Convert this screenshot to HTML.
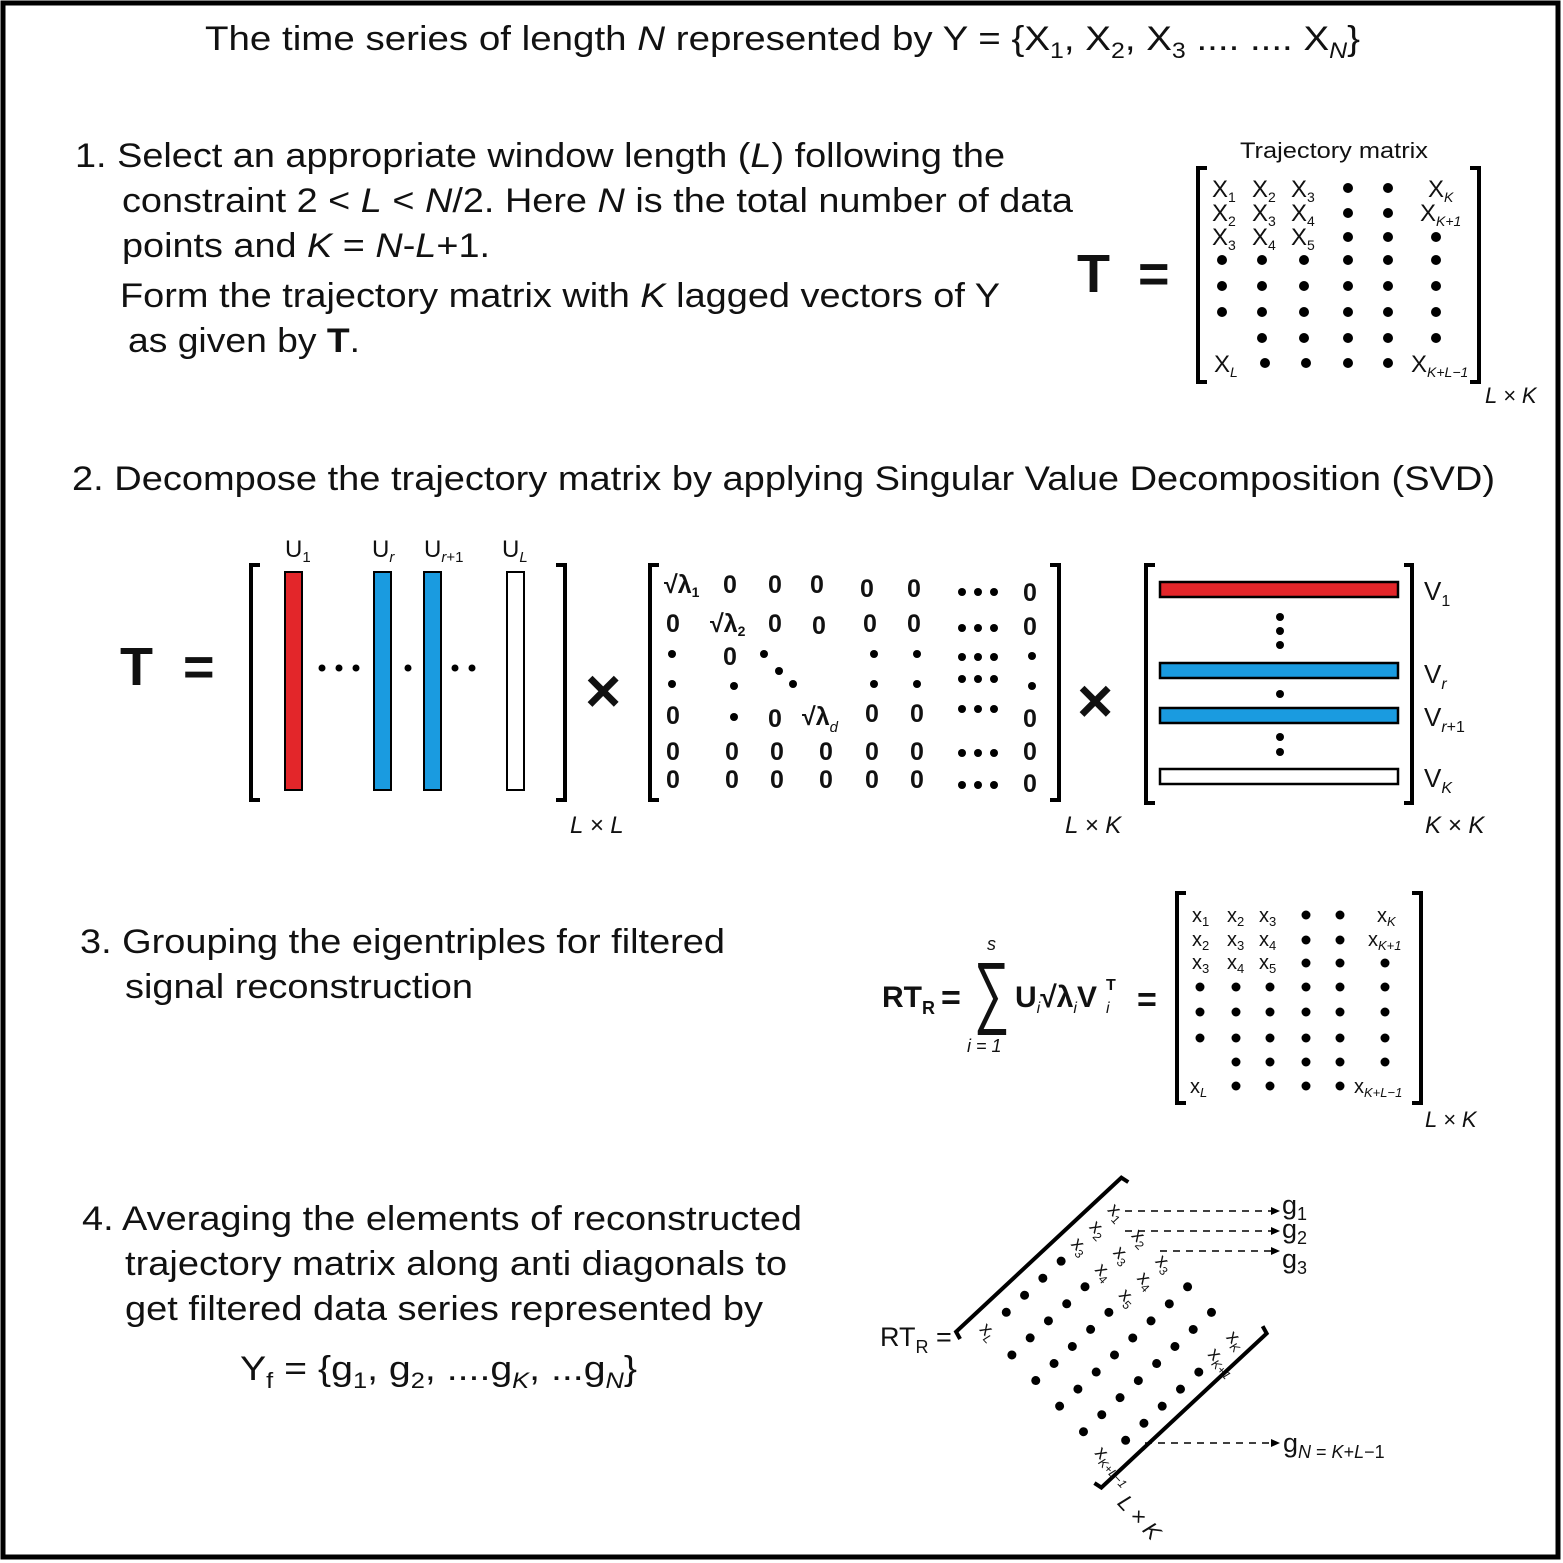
<!DOCTYPE html>
<html><head><meta charset="utf-8"><style>
html,body{margin:0;padding:0;background:#fff}
svg{display:block}
text{font-family:"Liberation Sans",sans-serif;fill:#111}
.b{font-weight:bold}
.s{font-family:"Liberation Serif",serif;font-weight:bold}
.i{font-style:italic}
</style></head><body>
<svg width="1563" height="1563" viewBox="0 0 1563 1563" xmlns="http://www.w3.org/2000/svg">
<rect x="3" y="3" width="1555" height="1554" fill="#fff" stroke="#000" stroke-width="5"/>

<text x="205" y="50" font-size="34" textLength="1155" lengthAdjust="spacingAndGlyphs">The time series of length <tspan class="i">N</tspan> represented by Y = {X<tspan font-size="22" dy="8">1</tspan><tspan dy="-8">, X</tspan><tspan font-size="22" dy="8">2</tspan><tspan dy="-8">, X</tspan><tspan font-size="22" dy="8">3</tspan><tspan dy="-8"> .... .... X</tspan><tspan font-size="22" dy="8" class="i">N</tspan><tspan dy="-8">}</tspan></text>

<g font-size="34">
<text x="75" y="167" textLength="930" lengthAdjust="spacingAndGlyphs">1. Select an appropriate window length (<tspan class="i">L</tspan>) following the</text>
<text x="122" y="212" textLength="951" lengthAdjust="spacingAndGlyphs">constraint 2 &lt; <tspan class="i">L</tspan> &lt; <tspan class="i">N</tspan>/2. Here <tspan class="i">N</tspan> is the total number of data</text>
<text x="122" y="257" textLength="368" lengthAdjust="spacingAndGlyphs">points and <tspan class="i">K</tspan> = <tspan class="i">N</tspan>-<tspan class="i">L</tspan>+1.</text>
<text x="120" y="307" textLength="880" lengthAdjust="spacingAndGlyphs">Form the trajectory matrix with <tspan class="i">K</tspan> lagged vectors of Y</text>
<text x="128" y="352" textLength="232" lengthAdjust="spacingAndGlyphs">as given by <tspan class="b">T</tspan>.</text>
</g>
<text x="1077" y="292" font-size="54" class="b">T</text>
<text x="1138" y="292" font-size="54" class="b">=</text>
<text x="1240" y="158" font-size="22" textLength="188" lengthAdjust="spacingAndGlyphs">Trajectory matrix</text>
<path d="M1207,168 H1198 V382 H1207 M1470,168 H1479 V382 H1470" fill="none" stroke="#000" stroke-width="4"/>
<g font-size="24">
<text x="1212" y="197">X<tspan font-size="14" dy="5">1</tspan></text>
<text x="1252" y="197">X<tspan font-size="14" dy="5">2</tspan></text>
<text x="1291" y="197">X<tspan font-size="14" dy="5">3</tspan></text>
<text x="1428" y="197">X<tspan font-size="14" dy="5" class="i">K</tspan></text>
<text x="1212" y="221">X<tspan font-size="14" dy="5">2</tspan></text>
<text x="1252" y="221">X<tspan font-size="14" dy="5">3</tspan></text>
<text x="1291" y="221">X<tspan font-size="14" dy="5">4</tspan></text>
<text x="1420" y="221">X<tspan font-size="14" dy="5" class="i">K+1</tspan></text>
<text x="1212" y="245">X<tspan font-size="14" dy="5">3</tspan></text>
<text x="1252" y="245">X<tspan font-size="14" dy="5">4</tspan></text>
<text x="1291" y="245">X<tspan font-size="14" dy="5">5</tspan></text>
<text x="1214" y="372">X<tspan font-size="14" dy="5" class="i">L</tspan></text>
<text x="1411" y="372">X<tspan font-size="14" dy="5" class="i">K+L−1</tspan></text>
</g>
<g fill="#000">
<circle cx="1348" cy="188" r="5"/><circle cx="1388" cy="188" r="5"/>
<circle cx="1348" cy="213" r="5"/><circle cx="1388" cy="213" r="5"/>
<circle cx="1348" cy="237" r="5"/><circle cx="1388" cy="237" r="5"/><circle cx="1436" cy="237" r="5"/>
<circle cx="1222" cy="260" r="5"/><circle cx="1262" cy="260" r="5"/><circle cx="1304" cy="260" r="5"/><circle cx="1348" cy="260" r="5"/><circle cx="1388" cy="260" r="5"/><circle cx="1436" cy="260" r="5"/>
<circle cx="1222" cy="286" r="5"/><circle cx="1262" cy="286" r="5"/><circle cx="1304" cy="286" r="5"/><circle cx="1348" cy="286" r="5"/><circle cx="1388" cy="286" r="5"/><circle cx="1436" cy="286" r="5"/>
<circle cx="1222" cy="312" r="5"/><circle cx="1262" cy="312" r="5"/><circle cx="1304" cy="312" r="5"/><circle cx="1348" cy="312" r="5"/><circle cx="1388" cy="312" r="5"/><circle cx="1436" cy="312" r="5"/>
<circle cx="1262" cy="338" r="5"/><circle cx="1304" cy="338" r="5"/><circle cx="1348" cy="338" r="5"/><circle cx="1388" cy="338" r="5"/><circle cx="1436" cy="338" r="5"/>
<circle cx="1265" cy="363" r="5"/><circle cx="1306" cy="363" r="5"/><circle cx="1348" cy="363" r="5"/><circle cx="1388" cy="363" r="5"/>
</g>
<text x="1485" y="403" font-size="22" class="i">L × K</text>

<text x="72" y="490" font-size="34" textLength="1423" lengthAdjust="spacingAndGlyphs">2. Decompose the trajectory matrix by applying Singular Value Decomposition (SVD)</text>
<text x="120" y="685" font-size="54" class="b">T</text>
<text x="183" y="685" font-size="54" class="b">=</text>
<path d="M260,565 H251 V800 H260 M556,565 H565 V800 H556" fill="none" stroke="#000" stroke-width="4"/>
<rect x="285" y="572" width="17" height="218" fill="#e3262a" stroke="#000" stroke-width="2"/>
<rect x="374" y="572" width="17" height="218" fill="#1a9be0" stroke="#000" stroke-width="2"/>
<rect x="424" y="572" width="17" height="218" fill="#1a9be0" stroke="#000" stroke-width="2"/>
<rect x="507" y="572" width="17" height="218" fill="#fff" stroke="#000" stroke-width="2"/>
<g fill="#000">
<circle cx="322" cy="668" r="3.5"/><circle cx="339" cy="668" r="3.5"/><circle cx="356" cy="668" r="3.5"/>
<circle cx="408" cy="668" r="3.5"/>
<circle cx="455" cy="668" r="3.5"/><circle cx="472" cy="668" r="3.5"/>
</g>
<g font-size="24">
<text x="285" y="557">U<tspan font-size="15" dy="5">1</tspan></text>
<text x="372" y="557">U<tspan font-size="15" dy="5" class="i">r</tspan></text>
<text x="424" y="557">U<tspan font-size="15" dy="5" class="i">r</tspan><tspan font-size="15">+1</tspan></text>
<text x="502" y="557">U<tspan font-size="15" dy="5" class="i">L</tspan></text>
</g>
<text x="570" y="833" font-size="24" class="i">L × L</text>
<text x="585" y="712" font-size="62" class="b">×</text>

<path d="M659,565 H650 V800 H659 M1050,565 H1059 V800 H1050" fill="none" stroke="#000" stroke-width="4"/>
<g font-size="25" class="s">
<text x="664" y="593">√λ<tspan font-size="14" dy="4">1</tspan></text>
<text x="723" y="593">0</text><text x="768" y="593">0</text><text x="810" y="593">0</text><text x="860" y="597">0</text><text x="907" y="597">0</text><text x="1023" y="601">0</text>
<text x="666" y="632">0</text>
<text x="710" y="632">√λ<tspan font-size="14" dy="4">2</tspan></text>
<text x="768" y="632">0</text><text x="812" y="634">0</text><text x="863" y="632">0</text><text x="907" y="632">0</text><text x="1023" y="635">0</text>
<text x="723" y="665">0</text>
<text x="666" y="724">0</text><text x="768" y="727">0</text>
<text x="802" y="725">√λ<tspan font-size="15" dy="7" class="i" font-weight="normal">d</tspan></text>
<text x="865" y="722">0</text><text x="910" y="722">0</text><text x="1023" y="727">0</text>
<text x="666" y="760">0</text><text x="725" y="760">0</text><text x="770" y="760">0</text><text x="819" y="760">0</text><text x="865" y="760">0</text><text x="910" y="760">0</text><text x="1023" y="760">0</text>
<text x="666" y="788">0</text><text x="725" y="788">0</text><text x="770" y="788">0</text><text x="819" y="788">0</text><text x="865" y="788">0</text><text x="910" y="788">0</text><text x="1023" y="792">0</text>
</g>
<g fill="#000">
<circle cx="962" cy="592" r="4"/><circle cx="978" cy="592" r="4"/><circle cx="994" cy="592" r="4"/>
<circle cx="962" cy="628" r="4"/><circle cx="978" cy="628" r="4"/><circle cx="994" cy="628" r="4"/>
<circle cx="672" cy="654" r="4"/><circle cx="764" cy="654" r="4"/><circle cx="874" cy="654" r="4"/><circle cx="917" cy="654" r="4"/><circle cx="962" cy="657" r="4"/><circle cx="978" cy="657" r="4"/><circle cx="994" cy="657" r="4"/><circle cx="1032" cy="656" r="4"/>
<circle cx="779" cy="671" r="4"/><circle cx="793" cy="684" r="4"/>
<circle cx="672" cy="684" r="4"/><circle cx="734" cy="686" r="4"/><circle cx="874" cy="684" r="4"/><circle cx="917" cy="684" r="4"/><circle cx="962" cy="679" r="4"/><circle cx="978" cy="679" r="4"/><circle cx="994" cy="679" r="4"/><circle cx="1032" cy="686" r="4"/>
<circle cx="734" cy="717" r="4"/><circle cx="962" cy="709" r="4"/><circle cx="978" cy="709" r="4"/><circle cx="994" cy="709" r="4"/>
<circle cx="962" cy="753" r="4"/><circle cx="978" cy="753" r="4"/><circle cx="994" cy="753" r="4"/>
<circle cx="962" cy="785" r="4"/><circle cx="978" cy="785" r="4"/><circle cx="994" cy="785" r="4"/>
</g>
<text x="1065" y="833" font-size="24" class="i">L × K</text>
<text x="1077" y="722" font-size="62" class="b">×</text>

<path d="M1155,565 H1146 V803 H1155 M1404,565 H1412 V803 H1404" fill="none" stroke="#000" stroke-width="4"/>
<rect x="1160" y="582" width="238" height="15" fill="#e3262a" stroke="#000" stroke-width="2.5"/>
<rect x="1160" y="663" width="238" height="15" fill="#1a9be0" stroke="#000" stroke-width="2.5"/>
<rect x="1160" y="708" width="238" height="15" fill="#1a9be0" stroke="#000" stroke-width="2.5"/>
<rect x="1160" y="769" width="238" height="15" fill="#fff" stroke="#000" stroke-width="2.5"/>
<g fill="#000">
<circle cx="1280" cy="617" r="4"/><circle cx="1280" cy="631" r="4"/><circle cx="1280" cy="645" r="4"/>
<circle cx="1280" cy="694" r="4"/>
<circle cx="1280" cy="737" r="4"/><circle cx="1280" cy="752" r="4"/>
</g>
<g font-size="26">
<text x="1424" y="600">V<tspan font-size="16" dy="6">1</tspan></text>
<text x="1424" y="683">V<tspan font-size="16" dy="6" class="i">r</tspan></text>
<text x="1424" y="726">V<tspan font-size="16" dy="6" class="i">r</tspan><tspan font-size="16">+1</tspan></text>
<text x="1424" y="787">V<tspan font-size="16" dy="6" class="i">K</tspan></text>
</g>
<text x="1425" y="833" font-size="24" class="i">K × K</text>

<g font-size="34">
<text x="80" y="953" textLength="645" lengthAdjust="spacingAndGlyphs">3. Grouping the eigentriples for filtered</text>
<text x="125" y="998" textLength="348" lengthAdjust="spacingAndGlyphs">signal reconstruction</text>
</g>
<g class="s">
<text x="882" y="1007" font-size="30">RT<tspan font-size="18" dy="7">R</tspan></text>
<text x="941" y="1009" font-size="34">=</text>
<text transform="translate(974,1018) scale(0.62,1)" font-size="80" font-weight="normal">∑</text>
<text x="1015" y="1007" font-size="30">U<tspan font-size="16" dy="6" class="i" font-weight="normal">i</tspan><tspan dy="-6">√λ</tspan><tspan font-size="16" dy="6" class="i" font-weight="normal">i</tspan><tspan dy="-6">V</tspan></text>
<text x="1106" y="990" font-size="16">T</text>
<text x="1106" y="1013" font-size="16" class="i" font-weight="normal">i</text>
<text x="1137" y="1011" font-size="34">=</text>
</g>
<text x="987" y="950" font-size="18" class="i">s</text>
<text x="967" y="1052" font-size="18" class="i">i = 1</text>
<path d="M1186,893 H1177 V1103 H1186 M1412,893 H1421 V1103 H1412" fill="none" stroke="#000" stroke-width="4"/>
<g font-size="20">
<text x="1192" y="922">x<tspan font-size="13" dy="4">1</tspan></text>
<text x="1227" y="922">x<tspan font-size="13" dy="4">2</tspan></text>
<text x="1259" y="922">x<tspan font-size="13" dy="4">3</tspan></text>
<text x="1377" y="922">x<tspan font-size="13" dy="4" class="i">K</tspan></text>
<text x="1192" y="946">x<tspan font-size="13" dy="4">2</tspan></text>
<text x="1227" y="946">x<tspan font-size="13" dy="4">3</tspan></text>
<text x="1259" y="946">x<tspan font-size="13" dy="4">4</tspan></text>
<text x="1368" y="946">x<tspan font-size="13" dy="4" class="i">K+1</tspan></text>
<text x="1192" y="969">x<tspan font-size="13" dy="4">3</tspan></text>
<text x="1227" y="969">x<tspan font-size="13" dy="4">4</tspan></text>
<text x="1259" y="969">x<tspan font-size="13" dy="4">5</tspan></text>
<text x="1190" y="1093">x<tspan font-size="13" dy="4" class="i">L</tspan></text>
<text x="1354" y="1093">x<tspan font-size="13" dy="4" class="i">K+L−1</tspan></text>
</g>
<g fill="#000">
<circle cx="1306" cy="915" r="4.5"/><circle cx="1340" cy="915" r="4.5"/>
<circle cx="1306" cy="940" r="4.5"/><circle cx="1340" cy="940" r="4.5"/>
<circle cx="1306" cy="963" r="4.5"/><circle cx="1340" cy="963" r="4.5"/><circle cx="1385" cy="963" r="4.5"/>
<circle cx="1200" cy="987" r="4.5"/><circle cx="1236" cy="987" r="4.5"/><circle cx="1270" cy="987" r="4.5"/><circle cx="1306" cy="987" r="4.5"/><circle cx="1340" cy="987" r="4.5"/><circle cx="1385" cy="987" r="4.5"/>
<circle cx="1200" cy="1012" r="4.5"/><circle cx="1236" cy="1012" r="4.5"/><circle cx="1270" cy="1012" r="4.5"/><circle cx="1306" cy="1012" r="4.5"/><circle cx="1340" cy="1012" r="4.5"/><circle cx="1385" cy="1012" r="4.5"/>
<circle cx="1200" cy="1038" r="4.5"/><circle cx="1236" cy="1038" r="4.5"/><circle cx="1270" cy="1038" r="4.5"/><circle cx="1306" cy="1038" r="4.5"/><circle cx="1340" cy="1038" r="4.5"/><circle cx="1385" cy="1038" r="4.5"/>
<circle cx="1236" cy="1062" r="4.5"/><circle cx="1270" cy="1062" r="4.5"/><circle cx="1306" cy="1062" r="4.5"/><circle cx="1340" cy="1062" r="4.5"/><circle cx="1385" cy="1062" r="4.5"/>
<circle cx="1236" cy="1086" r="4.5"/><circle cx="1270" cy="1086" r="4.5"/><circle cx="1306" cy="1086" r="4.5"/><circle cx="1340" cy="1086" r="4.5"/>
</g>
<text x="1425" y="1127" font-size="22" class="i">L × K</text>

<g font-size="34">
<text x="82" y="1230" textLength="720" lengthAdjust="spacingAndGlyphs">4. Averaging the elements of reconstructed</text>
<text x="125" y="1275" textLength="662" lengthAdjust="spacingAndGlyphs">trajectory matrix along anti diagonals to</text>
<text x="125" y="1320" textLength="638" lengthAdjust="spacingAndGlyphs">get filtered data series represented by</text>
<text x="240" y="1380" textLength="397" lengthAdjust="spacingAndGlyphs">Y<tspan font-size="22" dy="8">f</tspan><tspan dy="-8"> = {g</tspan><tspan font-size="22" dy="8">1</tspan><tspan dy="-8">, g</tspan><tspan font-size="22" dy="8">2</tspan><tspan dy="-8">, ....g</tspan><tspan font-size="22" dy="8" class="i">K</tspan><tspan dy="-8">, ...g</tspan><tspan font-size="22" dy="8" class="i">N</tspan><tspan dy="-8">}</tspan></text>
</g>
<text x="880" y="1346" font-size="27">RT<tspan font-size="18" dy="7">R</tspan><tspan dy="-7"> =</tspan></text>

<g transform="translate(1116,1210) rotate(47)">
<path d="M-12,-28 L-20,-26 L-20,200 L-12,202 M185,-28 L193,-26 L193,200 L185,202" fill="none" stroke="#000" stroke-width="4"/>
<g font-size="19">
<text x="-6" y="7">x<tspan font-size="12" dy="4">1</tspan></text>
<text x="-6" y="32">x<tspan font-size="12" dy="4">2</tspan></text>
<text x="29" y="7">x<tspan font-size="12" dy="4">2</tspan></text>
<text x="-6" y="57">x<tspan font-size="12" dy="4">3</tspan></text>
<text x="29" y="32">x<tspan font-size="12" dy="4">3</tspan></text>
<text x="64" y="7">x<tspan font-size="12" dy="4">3</tspan></text>
<text x="29" y="57">x<tspan font-size="12" dy="4">4</tspan></text>
<text x="64" y="32">x<tspan font-size="12" dy="4">4</tspan></text>
<text x="64" y="57">x<tspan font-size="12" dy="4">5</tspan></text>
<text x="168" y="7">x<tspan font-size="12" dy="4" class="i">K</tspan></text>
<text x="168" y="32">x<tspan font-size="12" dy="4" class="i">K+1</tspan></text>
<text x="-6" y="182">x<tspan font-size="12" dy="4" class="i">L</tspan></text>
<text x="163" y="182">x<tspan font-size="12" dy="4" class="i">K+L−1</tspan></text>
</g>
<g fill="#000">
<circle cx="105" cy="0" r="4.5"/><circle cx="140" cy="0" r="4.5"/>
<circle cx="105" cy="25" r="4.5"/><circle cx="140" cy="25" r="4.5"/>
<circle cx="105" cy="50" r="4.5"/><circle cx="140" cy="50" r="4.5"/><circle cx="175" cy="50" r="4.5"/>
<circle cx="0" cy="75" r="4.5"/><circle cx="35" cy="75" r="4.5"/><circle cx="70" cy="75" r="4.5"/><circle cx="105" cy="75" r="4.5"/><circle cx="140" cy="75" r="4.5"/><circle cx="175" cy="75" r="4.5"/>
<circle cx="0" cy="100" r="4.5"/><circle cx="35" cy="100" r="4.5"/><circle cx="70" cy="100" r="4.5"/><circle cx="105" cy="100" r="4.5"/><circle cx="140" cy="100" r="4.5"/><circle cx="175" cy="100" r="4.5"/>
<circle cx="0" cy="125" r="4.5"/><circle cx="35" cy="125" r="4.5"/><circle cx="70" cy="125" r="4.5"/><circle cx="105" cy="125" r="4.5"/><circle cx="140" cy="125" r="4.5"/><circle cx="175" cy="125" r="4.5"/>
<circle cx="0" cy="150" r="4.5"/><circle cx="35" cy="150" r="4.5"/><circle cx="70" cy="150" r="4.5"/><circle cx="105" cy="150" r="4.5"/><circle cx="140" cy="150" r="4.5"/><circle cx="175" cy="150" r="4.5"/>
<circle cx="35" cy="175" r="4.5"/><circle cx="70" cy="175" r="4.5"/><circle cx="105" cy="175" r="4.5"/><circle cx="140" cy="175" r="4.5"/>
</g>
<text x="215" y="200" font-size="22" class="i">L × K</text>
</g>
<g stroke="#000" stroke-width="1.5" stroke-dasharray="7,6" fill="none">
<line x1="1125" y1="1211" x2="1272" y2="1211"/>
<line x1="1125" y1="1231" x2="1272" y2="1231"/>
<line x1="1160" y1="1251" x2="1272" y2="1251"/>
<line x1="1145" y1="1443" x2="1272" y2="1443"/>
</g>
<g fill="#000">
<path d="M1280,1211 l-9,-4 v8z"/><path d="M1280,1231 l-9,-4 v8z"/><path d="M1280,1251 l-9,-4 v8z"/><path d="M1280,1443 l-9,-4 v8z"/>
</g>
<g font-size="27">
<text x="1282" y="1214">g<tspan font-size="18" dy="6">1</tspan></text>
<text x="1282" y="1238">g<tspan font-size="18" dy="6">2</tspan></text>
<text x="1282" y="1268">g<tspan font-size="18" dy="6">3</tspan></text>
<text x="1283" y="1452">g<tspan font-size="18" dy="6" class="i">N</tspan><tspan font-size="18"> = </tspan><tspan font-size="18" class="i">K</tspan><tspan font-size="18">+</tspan><tspan font-size="18" class="i">L</tspan><tspan font-size="18">−1</tspan></text>
</g>
</svg>
</body></html>
